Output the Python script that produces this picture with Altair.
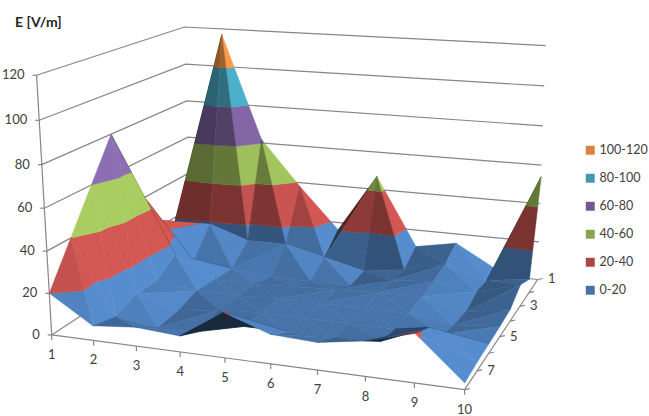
import altair as alt
import numpy as np
import pandas as pd

# Field strength per grid position: columns are categories 1-10, rows are series 1-8
series_1 = [5, 117, 62, 38, 16, 47, 11, 15, 3, 54]
series_2 = [15, 19, 12, 12, 7, 2, 5, 10, 4, 7]
series_3 = [25, 5, 3, 1, 1, 1, 6, 8, 5, 11]
series_4 = [50, 15, 4, 4, 5, 6, 7, 7, 2, 6]
series_5 = [80, 8, 5, 5, 6, 6, 6, 6, 3, 5]
series_6 = [60, 8, 2, 5, 6, 6, 6, 6, 6, 4.5]
series_7 = [40, 4, 1, 2, 7, 7, 7, 8, 17, 4]
series_8 = [20, 7, 9, 7.5, 21, 13.6, 12.6, 16, 22, 3]
grid = np.array([series_1, series_2, series_3, series_4,
                 series_5, series_6, series_7, series_8], dtype=float)

category_labels = [str(i) for i in range(1, 11)]
series_labels = ["1", "", "3", "", "5", "", "7", ""]
z_ticks = [0, 20, 40, 60, 80, 100, 120]

band_names = ["0-20", "20-40", "40-60", "60-80", "80-100", "100-120"]
band_edges = [0, 20, 40, 60, 80, 100, 120]
surface_colors = ["#4F81BD", "#C0504D", "#9BBB59", "#8064A2", "#4BACC6", "#F79646"]
legend_colors = ["#4573A7", "#AA4643", "#89A54E", "#71588F", "#4198AF", "#DB843D"]

ZMAX = 120.0
n_rows, n_cols = grid.shape

# Perspective camera for the unit box (u along categories, v towards series 1, w up)
box_corners = [(0, 0, 0), (1, 0, 0), (1, 1, 0), (0, 1, 0), (0, 0, 1), (1, 1, 1), (0, 1, 1)]
box_screen = [(50, 333), (465, 391), (537, 278), (193, 245), (38, 76), (546, 46), (183, 26)]
lhs, rhs = [], []
for (a, b, c), (sx, sy) in zip(box_corners, box_screen):
    lhs.append([a, b, c, 1, 0, 0, 0, 0, -sx * a, -sx * b, -sx * c])
    rhs.append(sx)
    lhs.append([0, 0, 0, 0, a, b, c, 1, -sy * a, -sy * b, -sy * c])
    rhs.append(sy)
params = np.linalg.lstsq(np.array(lhs, float), np.array(rhs, float), rcond=None)[0]
camera = np.append(params, 1.0).reshape(3, 4)


def project(u, v, z):
    h = camera @ np.array([u, v, z / ZMAX, 1.0])
    return h[0] / h[2], h[1] / h[2], h[2]


def grid_point(i, j):
    # i: category index, j: series index; series 1 sits at the back wall
    return (i / (n_cols - 1), 1 - j / (n_rows - 1), grid[j, i])


def clip(poly, level, keep_above):
    out = []
    for k in range(len(poly)):
        p, q = poly[k], poly[(k + 1) % len(poly)]
        p_in = p[2] >= level if keep_above else p[2] <= level
        q_in = q[2] >= level if keep_above else q[2] <= level
        if p_in:
            out.append(p)
        if p_in != q_in:
            t = (level - p[2]) / (q[2] - p[2])
            out.append(tuple(p[m] + t * (q[m] - p[m]) for m in range(3)))
    return out


light = np.array([0.8, -0.1, 0.6])
light = light / np.linalg.norm(light)


def shade(tri):
    a, b, c = [np.array([t[0], 0.75 * t[1], 0.75 * t[2] / ZMAX]) for t in tri]
    normal = np.cross(b - a, c - a)
    if normal[2] < 0:
        normal = -normal
    normal = normal / np.linalg.norm(normal)
    screen = [project(*t)[:2] for t in tri]
    flat = [project(t[0], t[1], 0)[:2] for t in tri]

    def winding(s):
        return (s[1][0] - s[0][0]) * (s[2][1] - s[0][1]) - (s[1][1] - s[0][1]) * (s[2][0] - s[0][0])

    if winding(screen) * winding(flat) < 0:
        return 0.32
    return float(np.clip(0.45 + 0.75 * normal @ light, 0.42, 1.1))


def tint(hex_color, factor):
    rgb = [int(hex_color[m:m + 2], 16) for m in (1, 3, 5)]
    return "#" + "".join(f"{int(min(255, c * factor)):02x}" for c in rgb)


triangles = []
for j in range(n_rows - 1):
    for i in range(n_cols - 1):
        p00, p10 = grid_point(i, j), grid_point(i + 1, j)
        p01, p11 = grid_point(i, j + 1), grid_point(i + 1, j + 1)
        # The diagonal follows the ridge, joining the pair of corners with the larger sum
        if p00[2] + p11[2] >= p10[2] + p01[2]:
            triangles += [(p00, p10, p11), (p00, p11, p01)]
        else:
            triangles += [(p00, p10, p01), (p10, p11, p01)]
triangles.sort(key=lambda t: -np.mean([project(*p)[2] for p in t]))

rows = []
poly_id = 0
for tri in triangles:
    factor = shade(tri)
    for b, base in enumerate(surface_colors):
        piece = clip(list(tri), band_edges[b], True)
        if piece:
            piece = clip(piece, band_edges[b + 1], False)
        if len(piece) < 3:
            continue
        color = tint(base, factor)
        for k, p in enumerate(piece):
            sx, sy, _ = project(*p)
            rows.append({"poly": poly_id, "k": k, "px": sx, "py": sy, "col": color})
        poly_id += 1
surface_df = pd.DataFrame(rows)

# Wall gridlines run from the left edge to the back corner and on to the right edge
frame = []
seg = 0
for z in z_ticks:
    for k, (u, v) in enumerate([(0, 0), (0, 1), (1, 1)]):
        sx, sy, _ = project(u, v, z)
        frame.append({"seg": seg, "k": k, "px": sx, "py": sy})
    seg += 1
for (u0, v0, z0), (u1, v1, z1) in [((0, 0, 0), (0, 0, ZMAX)),
                                   ((0, 0, 0), (1, 0, 0)),
                                   ((1, 0, 0), (1, 1, 0))]:
    for k, q in enumerate([(u0, v0, z0), (u1, v1, z1)]):
        sx, sy, _ = project(*q)
        frame.append({"seg": seg, "k": k, "px": sx, "py": sy})
    seg += 1
# Tick marks
for z in z_ticks:
    sx, sy, _ = project(0, 0, z)
    frame += [{"seg": seg, "k": 0, "px": sx, "py": sy}, {"seg": seg, "k": 1, "px": sx - 4, "py": sy}]
    seg += 1
for i in range(n_cols):
    sx, sy, _ = project(i / (n_cols - 1), 0, 0)
    frame += [{"seg": seg, "k": 0, "px": sx, "py": sy}, {"seg": seg, "k": 1, "px": sx, "py": sy + 5}]
    seg += 1
for j in range(n_rows):
    sx, sy, _ = project(1, 1 - j / (n_rows - 1), 0)
    frame += [{"seg": seg, "k": 0, "px": sx, "py": sy}, {"seg": seg, "k": 1, "px": sx + 5, "py": sy - 1}]
    seg += 1
frame_df = pd.DataFrame(frame)

z_label_df = pd.DataFrame(
    [{"px": project(0, 0, z)[0] - 12, "py": project(0, 0, z)[1], "t": str(z)} for z in z_ticks])
cat_label_df = pd.DataFrame(
    [{"px": project(i / (n_cols - 1), 0, 0)[0], "py": project(i / (n_cols - 1), 0, 0)[1] + 20, "t": t}
     for i, t in enumerate(category_labels)])
ser_label_df = pd.DataFrame(
    [{"px": project(1, 1 - j / (n_rows - 1), 0)[0] + 14, "py": project(1, 1 - j / (n_rows - 1), 0)[1], "t": t}
     for j, t in enumerate(series_labels) if t])
title_df = pd.DataFrame([{"px": 15, "py": 23, "t": "E [V/m]"}])
legend_df = pd.DataFrame({"band": band_names, "px": [0] * 6, "py": [0] * 6})

x_enc = alt.X("px:Q", scale=alt.Scale(domain=[0, 649], nice=False, zero=False), axis=None)
y_enc = alt.Y("py:Q", scale=alt.Scale(domain=[416, 0], nice=False, zero=False), axis=None)

frame_layer = alt.Chart(frame_df).mark_line(color="#868686", strokeWidth=1.2).encode(
    x=x_enc, y=y_enc, detail="seg:N", order="k:Q")

surface_layer = alt.Chart(surface_df).mark_line(
    interpolate="linear-closed", strokeWidth=0.5, strokeJoin="round"
).encode(
    x=x_enc, y=y_enc, detail="poly:N", order="k:Q",
    fill=alt.Fill("col:N", scale=None, legend=None),
    stroke=alt.Stroke("col:N", scale=None, legend=None),
)


def labels(df, **kw):
    return alt.Chart(df).mark_text(font="Lato", fontSize=13, color="#404040", **kw).encode(
        x=x_enc, y=y_enc, text="t:N")


legend_layer = alt.Chart(legend_df).mark_square(size=0).encode(
    x=x_enc, y=y_enc,
    color=alt.Color(
        "band:N",
        scale=alt.Scale(domain=band_names[::-1], range=legend_colors[::-1]),
        legend=alt.Legend(
            orient="none", legendX=584, legendY=144, title=None,
            symbolType="square", symbolSize=80, symbolStrokeWidth=0,
            labelFont="Lato", labelFontSize=12.5, labelColor="#404040",
            rowPadding=15, labelOffset=3, symbolOpacity=1,
        ),
    ),
)

chart = alt.layer(
    frame_layer,
    surface_layer,
    labels(z_label_df, align="right", baseline="middle"),
    labels(cat_label_df, align="center", baseline="middle"),
    labels(ser_label_df, align="center", baseline="middle"),
    alt.Chart(title_df).mark_text(font="Lato", fontSize=14, fontWeight="bold", color="#262626",
                                  align="left", baseline="middle").encode(x=x_enc, y=y_enc, text="t:N"),
    legend_layer,
).properties(
    width=649, height=416, padding=0, autosize=alt.AutoSizeParams(type="none"),
    background="white",
).configure_view(stroke=None)

chart.save("out.html", embed_options={"renderer": "svg", "actions": False})
